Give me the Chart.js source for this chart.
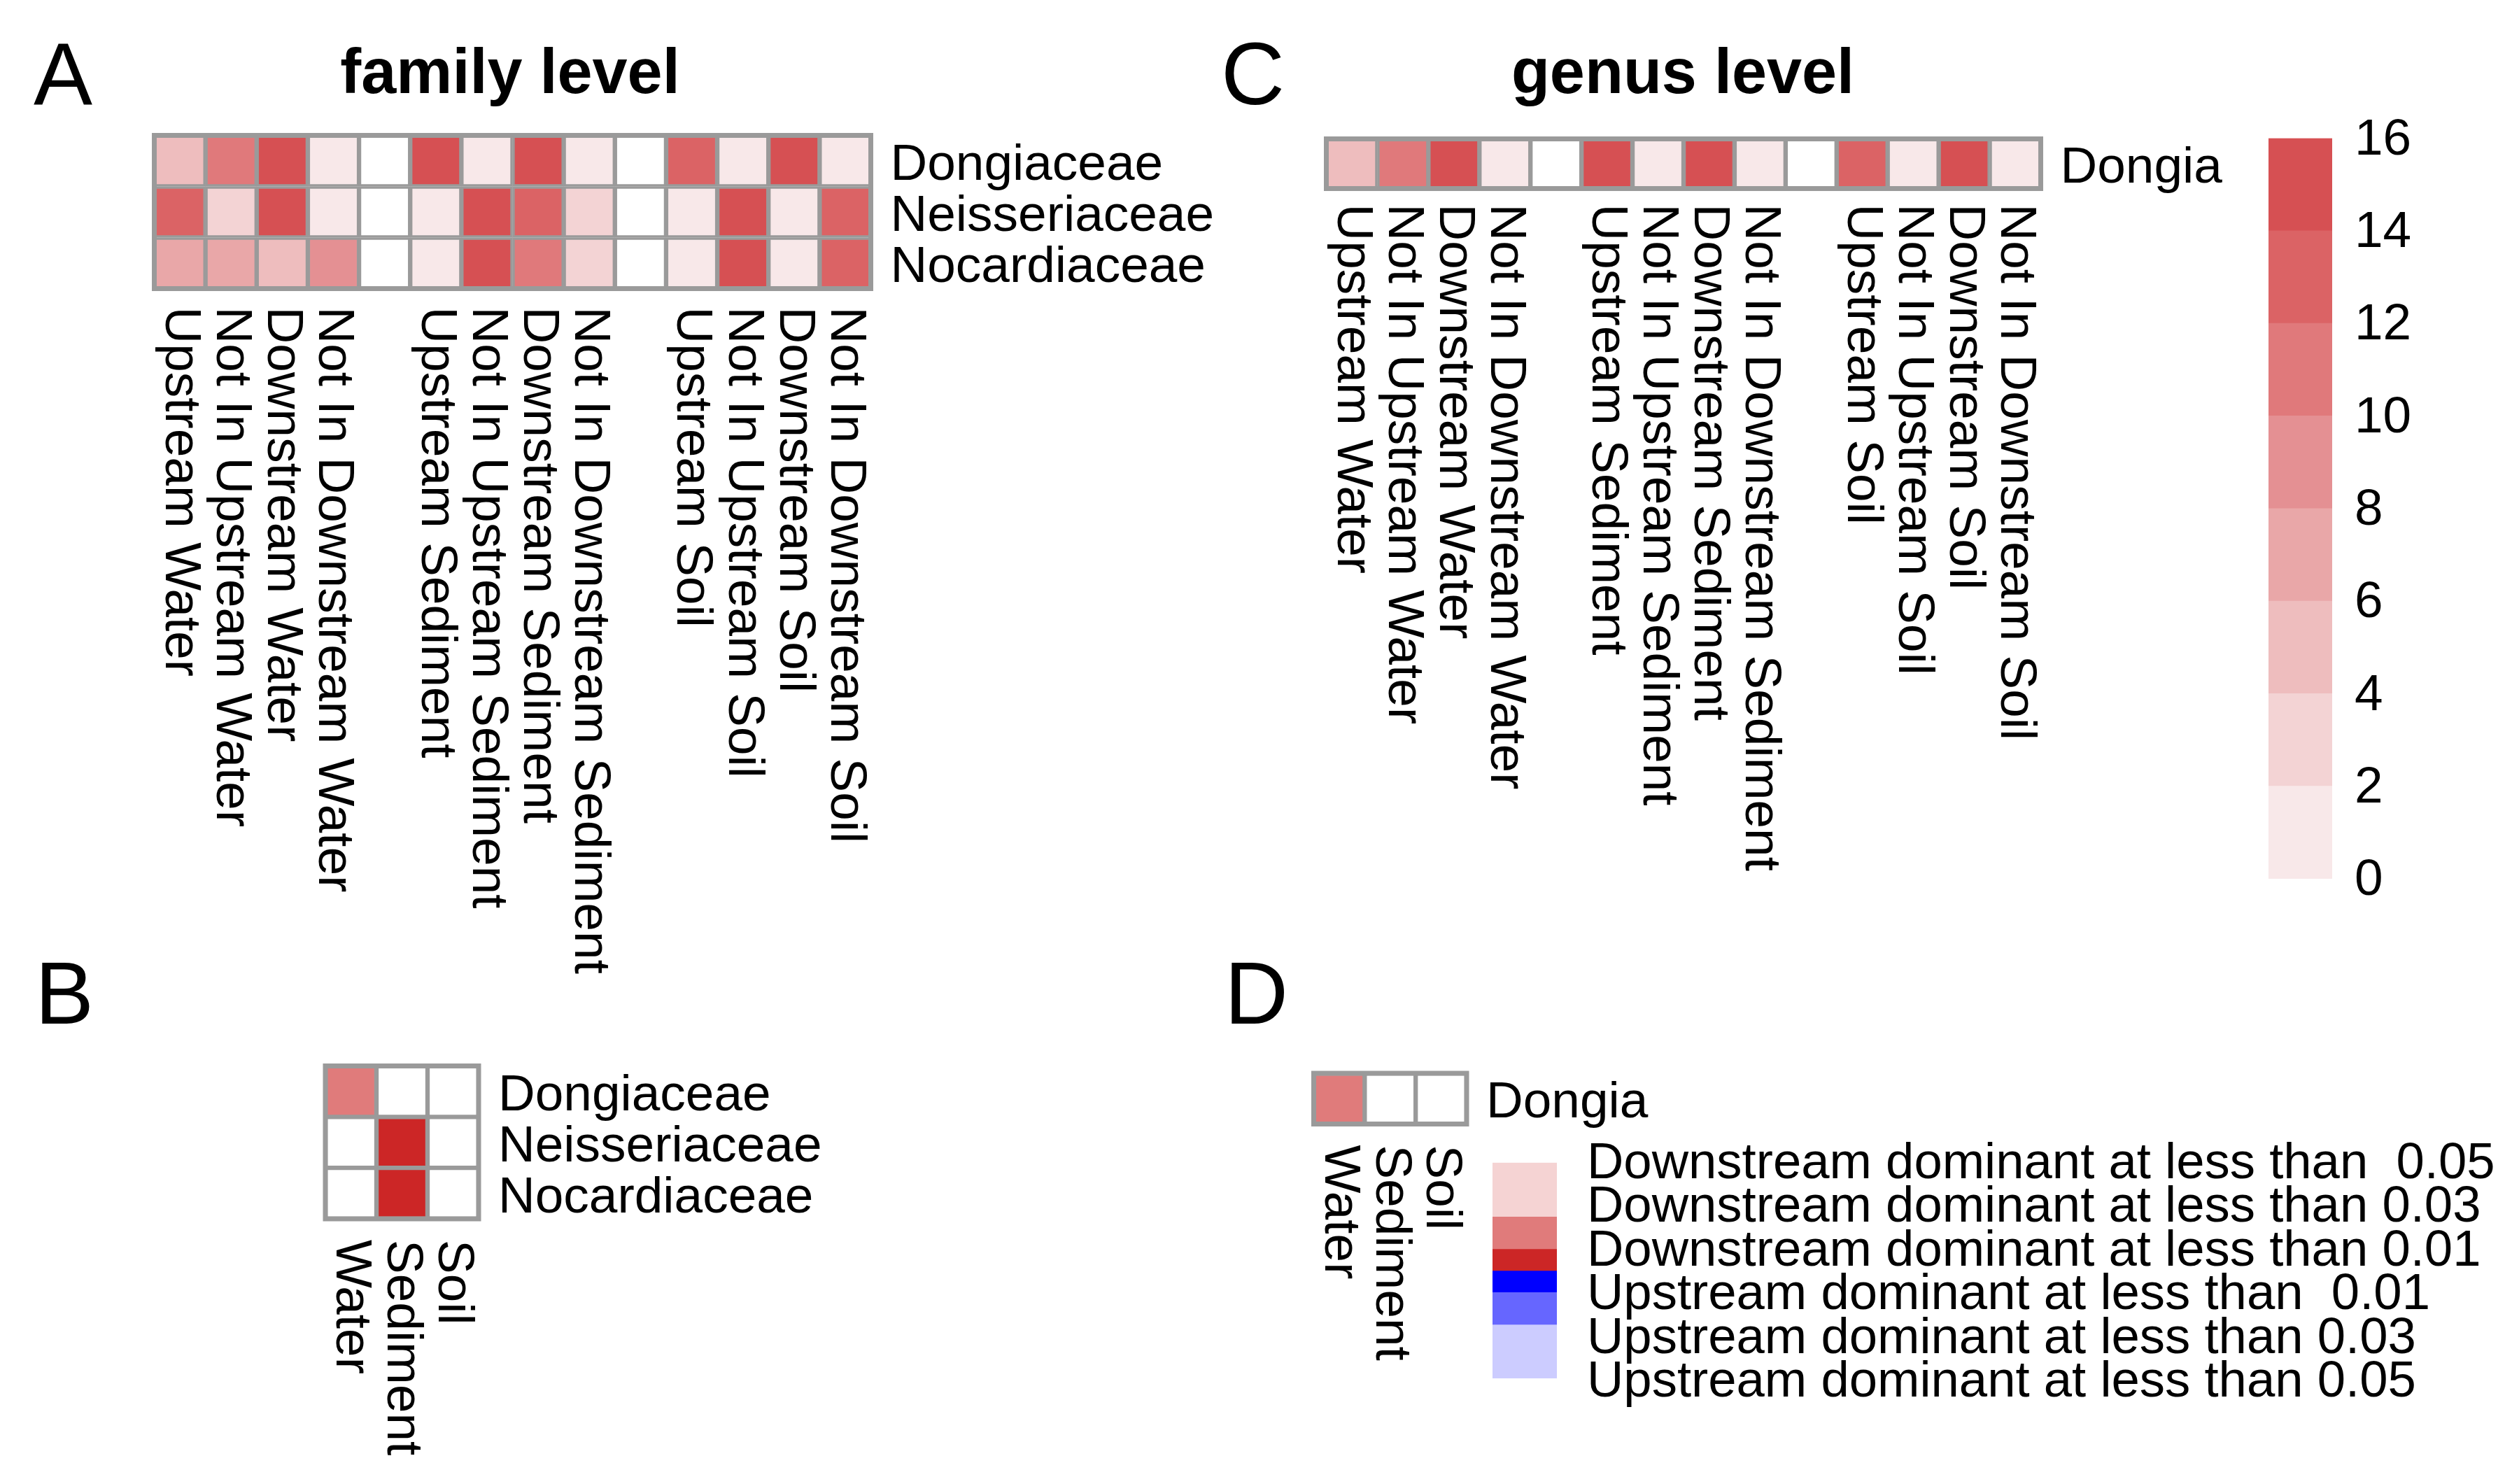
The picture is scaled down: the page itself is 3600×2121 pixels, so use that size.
<!DOCTYPE html>
<html><head><meta charset="utf-8">
<script src="https://cdn.jsdelivr.net/npm/chart.js@4.4.1/dist/chart.umd.min.js"></script>
<style>
html,body{margin:0;padding:0;background:#fff;}
#wrap{position:relative;width:3600px;height:2121px;overflow:hidden;background:#fff;font-family:'Liberation Sans',Arial,Helvetica,sans-serif;color:#000;}
canvas{position:absolute;left:0;top:0;}
.t{position:absolute;white-space:pre;line-height:1;}
</style></head><body>
<div id="wrap">
 <canvas id="cA" width="3600" height="2121"></canvas>
 <canvas id="cB" width="3600" height="2121"></canvas>
 <canvas id="cC" width="3600" height="2121"></canvas>
 <canvas id="cD" width="3600" height="2121"></canvas>
 <canvas id="cBar" width="3600" height="2121"></canvas>
 <canvas id="cLeg" width="3600" height="2121"></canvas>
 <div class="t" style="left:48px;top:43px;font-size:126px">A</div>
 <div class="t" style="left:0;width:1458px;text-align:center;top:57px;font-size:90px;font-weight:bold">family level</div>
 <div class="t" style="left:50px;top:1357px;font-size:126px">B</div>
 <div class="t" style="left:1745px;top:43px;font-size:126px">C</div>
 <div class="t" style="left:1905px;width:1000px;text-align:center;top:57px;font-size:90px;font-weight:bold">genus level</div>
 <div class="t" style="left:1750px;top:1357px;font-size:126px">D</div>
 <div id="legText"></div>
</div>
<script>
// ---------- data ----------
const familyRows = ['Dongiaceae', 'Neisseriaceae', 'Nocardiaceae'];
const genusRows = ['Dongia'];
const sampleCols = ['Upstream Water', 'Not In Upstream Water', 'Downstream Water', 'Not In Downstream Water', '',
  'Upstream Sediment', 'Not In Upstream Sediment', 'Downstream Sediment', 'Not In Downstream Sediment', '',
  'Upstream Soil', 'Not In Upstream Soil', 'Downstream Soil', 'Not In Downstream Soil'];
const dongiaceaeCounts    = [5, 11, 15, 1, null, 15, 1, 15, 1, null, 13, 1, 15, 1];
const neisseriaceaeCounts = [13, 3, 15, 1, null, 1, 15, 13, 3, null, 1, 15, 1, 13];
const nocardiaceaeCounts  = [7, 7, 5, 9, null, 1, 15, 11, 3, null, 1, 15, 1, 13];
const dongiaCounts        = [5, 11, 15, 1, null, 15, 1, 15, 1, null, 13, 1, 15, 1];

const habitats = ['Water', 'Sediment', 'Soil'];
// signed significance level: + downstream dominant, - upstream dominant, null = not significant
const dongiaceaeSig    = [0.03, null, null];
const neisseriaceaeSig = [null, 0.01, null];
const nocardiaceaeSig  = [null, 0.01, null];
const dongiaSig        = [0.03, null, null];

const colorbarBreaks = [0, 2, 4, 6, 8, 10, 12, 14, 16];
const colorbarColors = ['#f8e8e9', '#f3d3d4', '#eebdbe', '#e9a7a8', '#e49093', '#e0797b', '#db6365', '#d65053'];
const colorbarTicks = [0, 2, 4, 6, 8, 10, 12, 14, 16];

const legendLabels = ['Downstream dominant at less than  0.05', 'Downstream dominant at less than 0.03',
  'Downstream dominant at less than 0.01', 'Upstream dominant at less than  0.01',
  'Upstream dominant at less than 0.03', 'Upstream dominant at less than 0.05'];
const legendLevels = [0.05, 0.03, 0.01, -0.01, -0.03, -0.05];
const legendColors = ['#f5d3d3', '#e07b7b', '#cc2626', '#0000ff', '#6666ff', '#ccccff'];
const legendBreaks = [0, 2.5, 4, 5, 6, 7.5, 10];

// ---------- helpers ----------
const FONT = "'Liberation Sans', Arial, Helvetica, sans-serif";
const GRID = '#9a9a9a';
const W = 3600;
Chart.defaults.font.family = FONT;
Chart.defaults.color = '#000';

function countColor(v) {
  if (v === null || v === undefined) return '#ffffff';
  for (let i = 0; i < colorbarColors.length; i++) {
    if (v < colorbarBreaks[i + 1]) return colorbarColors[i];
  }
  return colorbarColors[colorbarColors.length - 1];
}
function sigColor(v) {
  if (v === null || v === undefined) return '#ffffff';
  const i = legendLevels.indexOf(v);
  return i >= 0 ? legendColors[i] : '#ffffff';
}

const colLabelPlugin = {
  id: 'colLabels',
  afterDraw(chart, args, opts) {
    const {ctx, chartArea, scales} = chart;
    const x = scales.x;
    ctx.save();
    ctx.fillStyle = '#000';
    ctx.font = '73px ' + FONT;
    ctx.textAlign = 'left';
    ctx.textBaseline = 'middle';
    (opts.labels || []).forEach((lab, i) => {
      if (!lab) return;
      const px = x.getPixelForValue(i);
      ctx.save();
      ctx.translate(px, chartArea.bottom + opts.gap);
      ctx.rotate(Math.PI / 2);
      ctx.fillText(lab, 0, 0);
      ctx.restore();
    });
    ctx.strokeStyle = GRID;
    ctx.lineWidth = 7;
    ctx.strokeRect(chartArea.left, chartArea.top, chartArea.width, chartArea.height);
    ctx.restore();
  }
};

// right axis fills the whole space to the canvas edge so the plot area ends exactly at 'right'
function heatmap(id, area, cols, rows, matrix, colorFn, gap) {
  const nR = rows.length;
  const rightSpace = W - area.right;
  const datasets = matrix.map((vals, r) => ({
    data: vals.map(() => [nR - 1 - r, nR - r]),
    backgroundColor: vals.map(colorFn),
    borderColor: GRID,
    borderWidth: 3.5,
    borderSkipped: false,
    barPercentage: 1,
    categoryPercentage: 1,
    grouped: false,
    yAxisID: 'y'
  }));
  return new Chart(document.getElementById(id), {
    type: 'bar',
    data: {labels: cols, datasets},
    plugins: [colLabelPlugin],
    options: {
      responsive: false,
      animation: false,
      events: [],
      layout: {padding: {left: area.left, top: area.top, bottom: area.bottom, right: 0}},
      plugins: {legend: {display: false}, tooltip: {enabled: false}, title: {display: false},
        colLabels: {labels: cols, gap: gap}},
      scales: {
        x: {type: 'category', display: false, offset: true},
        y: {type: 'linear', min: 0, max: nR, display: false},
        yl: {
          type: 'category', labels: rows, position: 'right', offset: true,
          grid: {display: false, drawTicks: false}, border: {display: false},
          ticks: {color: '#000', font: {size: 73}, padding: 28, labelOffset: 7, autoSkip: false},
          afterFit(s) { s.width = rightSpace; }
        }
      }
    }
  });
}

// ---------- charts ----------
heatmap('cA', {left: 220.5, top: 193.5, right: 1244.5, bottom: 1708.5}, sampleCols, familyRows,
  [dongiaceaeCounts, neisseriaceaeCounts, nocardiaceaeCounts], countColor, 26);
heatmap('cC', {left: 1895.5, top: 198.5, right: 2916.5, bottom: 1851.5}, sampleCols, genusRows,
  [dongiaCounts], countColor, 22);
heatmap('cB', {left: 465, top: 1523.5, right: 684, bottom: 379}, habitats, familyRows,
  [dongiaceaeSig, neisseriaceaeSig, nocardiaceaeSig], sigColor, 30);
heatmap('cD', {left: 1877.5, top: 1534, right: 2096, bottom: 514.5}, habitats, genusRows,
  [dongiaSig], sigColor, 30);

// colour bar for counts
new Chart(document.getElementById('cBar'), {
  type: 'bar',
  data: {
    labels: [''],
    datasets: colorbarColors.map((c, i) => ({
      data: [[colorbarBreaks[i], colorbarBreaks[i + 1]]],
      backgroundColor: c, borderWidth: 0, grouped: false, barPercentage: 1, categoryPercentage: 1
    }))
  },
  options: {
    responsive: false, animation: false, events: [],
    layout: {padding: {left: 3242, right: 0, top: 197.5, bottom: 865}},
    plugins: {legend: {display: false}, tooltip: {enabled: false}},
    scales: {
      x: {display: false, offset: true},
      y: {
        min: colorbarTicks[0], max: colorbarTicks[colorbarTicks.length - 1], position: 'right',
        afterBuildTicks(s) { s.ticks = colorbarTicks.map(v => ({value: v})); },
        grid: {display: false, drawTicks: false}, border: {display: false},
        ticks: {color: '#000', font: {size: 73}, padding: 32, labelOffset: 3, autoSkip: false},
        afterFit(s) { s.width = W - 3333; }
      }
    }
  }
});

// significance legend strip
new Chart(document.getElementById('cLeg'), {
  type: 'bar',
  data: {
    labels: [''],
    datasets: legendColors.map((c, i) => ({
      data: [[legendBreaks[i], legendBreaks[i + 1]]],
      backgroundColor: c, borderWidth: 0, grouped: false, barPercentage: 1, categoryPercentage: 1
    }))
  },
  options: {
    responsive: false, animation: false, events: [],
    layout: {padding: {left: 2133, right: 1375, top: 1661.7, bottom: 151}},
    plugins: {legend: {display: false}, tooltip: {enabled: false}},
    scales: {
      x: {display: false, offset: true},
      y: {display: false, reverse: true, min: legendBreaks[0], max: legendBreaks[legendBreaks.length - 1]}
    }
  }
});

// legend text
const legDiv = document.getElementById('legText');
legendLabels.forEach((lab, i) => {
  const d = document.createElement('div');
  d.className = 't';
  d.style.left = '2268px';
  d.style.top = (1623 + i * 62.4) + 'px';
  d.style.fontSize = '72.5px';
  d.textContent = lab;
  legDiv.appendChild(d);
});
</script>
</body></html>
